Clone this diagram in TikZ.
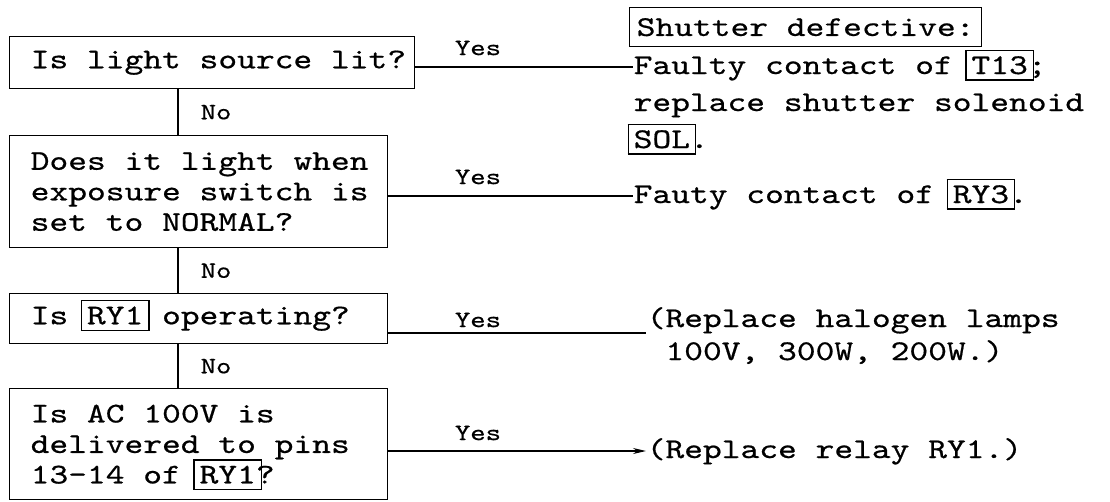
\documentclass[tikz,border=0pt]{standalone}
\usepackage{fontspec}
\usetikzlibrary{arrows.meta,calc}
\newfontfamily\tw{lmmono10-regular}[Extension=.otf, FakeStretch=1.25, FakeBold=0.6]
\newcommand\bigtw{\tw\fontsize{28.6}{30.5}\selectfont}
\newcommand\smalltw{\tw\fontsize{23.4}{26}\selectfont}
\newcommand\bx[1]{\setbox0\hbox{#1}\makebox[\wd0]{\smash{\setlength\fboxsep{5pt}\setlength\fboxrule{1.2pt}\fbox{#1}}}}
\newcommand\qline[2]{\makebox[#1][l]{\hspace*{21pt}#2}}
\begin{document}
\begin{tikzpicture}[x=1pt,y=-1pt, line width=1.4pt,
  qbox/.style={draw, anchor=north west, inner xsep=0pt, inner ysep=0pt, align=left, font=\bigtw},
  rtext/.style={anchor=west, inner xsep=0pt, inner ysep=0pt, text height=20pt, text depth=6pt, font=\bigtw},
  lab/.style={font=\smalltw, inner sep=0pt}]
\useasboundingbox (0,0) rectangle (1110,501);
% question boxes
\node[qbox, minimum width=405pt, minimum height=52pt] (b1) at (9,36)
  {\qline{405pt}{Is light source lit?}};
\node[qbox, minimum width=378pt, minimum height=112pt] (b2) at (9,135)
  {\qline{378pt}{Does it light when}\\\qline{378pt}{exposure switch is}\\\qline{378pt}{set to NORMAL?}};
\node[qbox, minimum width=378pt, minimum height=50pt] (b3) at (9,293)
  {\qline{378pt}{Is \bx{RY1} operating?}};
\node[qbox, minimum width=378pt, minimum height=111pt] (b4) at (9,388)
  {\qline{378pt}{Is AC 100V is}\\\qline{378pt}{delivered to pins}\\\qline{378pt}{13-14 of \bx{RY1}?}};
% answers
\node[draw, anchor=north west, inner xsep=7pt, inner ysep=0pt, minimum height=39pt, font=\bigtw] (sd) at (629,7) {Shutter defective:};
\node[rtext] (rA) at (633,67) {Faulty contact of \bx{T13};};
\node[rtext] (rB) at (633,104) {replace shutter solenoid};
\node[rtext] (rC) at (633,141) {\bx{SOL}.};
\node[rtext] (rD) at (633,196) {Fauty contact of \bx{RY3}.};
\node[rtext] (rE) at (646,320) {(Replace halogen lamps};
\node[rtext] (rF) at (664.75,353) {100V, 300W, 200W.)};
\node[rtext] (rG) at (646,451) {(Replace relay RY1.)};
% No connectors
\coordinate (vx) at (178,0);
\draw (b1.south -| vx) -- node[lab, anchor=west, xshift=22pt]{No} (b2.north -| vx);
\draw (b2.south -| vx) -- node[lab, anchor=west, xshift=22pt]{No} (b3.north -| vx);
\draw (b3.south -| vx) -- node[lab, anchor=west, xshift=22pt]{No} (b4.north -| vx);
% Yes connectors
\draw (b1.east |- rA.west) -- (rA.west);
\draw (b2.east |- rD.west) -- (rD.west);
\coordinate (hE) at ($(rE.west)+(0,13)$);
\draw (b3.east |- hE) -- (hE);
\draw[-{Stealth[length=13pt,width=6pt]}] (b4.east |- rG.west) -- (rG.west);
\node[lab] (y1) at (478,48) {Yes};
\node[lab] (y2) at (478,177) {Yes};
\node[lab] (y3) at (478,320) {Yes};
\node[lab] (y4) at (478,433) {Yes};
\end{tikzpicture}
\end{document}
